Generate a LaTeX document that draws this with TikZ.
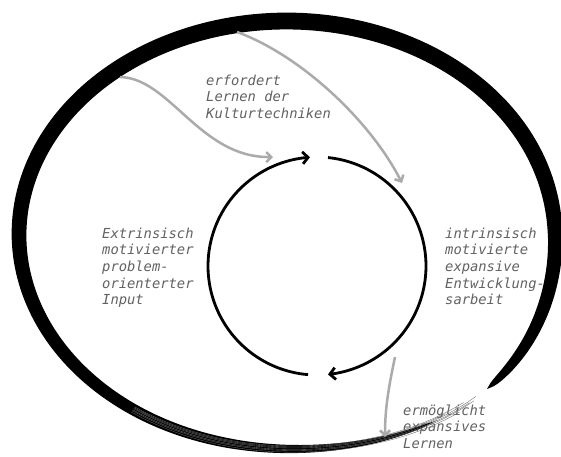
\documentclass[tikz,border=0pt]{standalone}
\usepackage{fontspec}
\newfontfamily\lblfont{DejaVu Sans Mono}[ItalicFont=* Oblique]
\usetikzlibrary{arrows.meta}
\definecolor{arrowgray}{HTML}{ABABAB}
\definecolor{textgray}{HTML}{626262}
\begin{document}
\begin{tikzpicture}[x=1pt,y=-1pt,
  declare function={
    fb(\t)=1+0.042*exp(-min(((min(abs(\t-45),abs(\t-405)))/30)^2,20));
    ww(\t)=28*pow(max((\t-58)/345,0.0001),0.5)*pow(max(1-(\t-58)/345,0.0001),0.28);
  },
  cyclearc/.style={line width=2.8pt, black, -{Straight Barb[length=5.5pt,width=12pt]}},
  grayarrow/.style={line width=2.5pt, arrowgray, -{Straight Barb[length=5pt,width=10pt]}},
  hair/.style={line width=0.35pt, black!60},
  lbl/.style={font=\lblfont\itshape\fontsize{13.8}{16.7}\selectfont, text=textgray, align=left, anchor=base west, inner sep=0pt}
]
\useasboundingbox (0,0) rectangle (561,456);
\fill[white] (0,0) rectangle (561,456);

% labels (anchor = baseline of last line)
\node[lbl] (top) at (206,118.4) {erfordert\\Lernen der\\Kulturtechniken};
\node[lbl] (left) at (102,304.8) {Extrinsisch\\motivierter\\problem-\\orienterter\\Input};
\node[lbl] (right) at (445,304.8) {intrinsisch\\motivierte\\expansive\\Entwicklung-\\sarbeit};
\node[lbl] (bottom) at (403,448.4) {ermöglicht\\expansives\\Lernen};

% outer brush stroke
\fill[black]
  ({286.5+267.5*fb(57)*cos(57)},{234.5+213.5*fb(57)*sin(57)})
  -- plot[domain=58:402.5, samples=300, variable=\t]
     ({286.5+(267.5*fb(\t)+ww(\t)/2)*cos(\t)},{234.5+(213.5*fb(\t)+ww(\t)/2)*sin(\t)})
  -- ({286.5+267.5*fb(404)*cos(404)},{234.5+213.5*fb(404)*sin(404)})
  -- plot[domain=402.5:58, samples=300, variable=\t]
     ({286.5+(267.5*fb(\t)-ww(\t)/2)*cos(\t)},{234.5+(213.5*fb(\t)-ww(\t)/2)*sin(\t)})
  -- cycle;
\foreach \o/\s in {-3/50, -1/47, 1.5/48, 3.2/52, 0.5/49, -2/55} {
  \draw[hair] plot[domain=\s:125, samples=40, variable=\t]
     ({286.5+(267.5*fb(\t)+\o)*cos(\t)},{234.5+(213.5*fb(\t)+\o)*sin(\t)});
}

% inner cycle
\draw[cyclearc] plot[domain=94.7:266.3, samples=80, variable=\t] ({317+109*cos(\t)},{266+109*sin(\t)});
\draw[cyclearc] plot[domain=-84.2:84.2, samples=80, variable=\t] ({317+109*cos(\t)},{266+109*sin(\t)});

% gray connectors
\coordinate (g1s) at (120,77);
\coordinate (g1e) at (273,157);
\coordinate (g2s) at (237,32);
\coordinate (g2e) at (402,183);
\coordinate (g3s) at (395,357);
\coordinate (g3e) at (385,437);
\draw[grayarrow] (g1s) .. controls (170,78) and (200,158) .. (g1e);
\draw[grayarrow] (g2s) .. controls (300,55) and (370,120) .. (g2e);
\draw[grayarrow] (g3s) .. controls (388,390) and (385,410) .. (g3e);
\end{tikzpicture}
\end{document}
